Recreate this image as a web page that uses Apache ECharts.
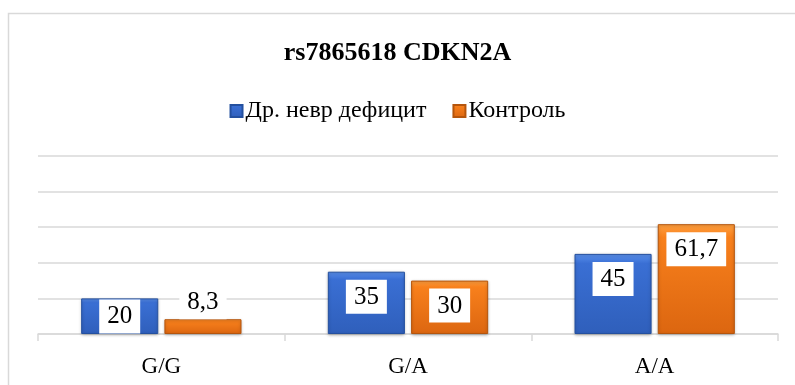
<!DOCTYPE html>
<html>
<head>
<meta charset="utf-8">
<script src="https://cdn.jsdelivr.net/npm/echarts@6/dist/echarts.min.js"></script>
<style>
html, body { margin: 0; padding: 0; background: #fff; }
#chart { width: 795px; height: 385px; }
</style>
</head>
<body>
<div id="chart"></div>
<script>
var categories = ['G/G', 'G/A', 'A/A'];
var seriesNames = ['Др. невр дефицит', 'Контроль'];
var patientValues = [20, 35, 45];
var controlValues = [8.3, 30, 61.7];

var serif = '"Liberation Serif", "Times New Roman", serif';
var myChart = echarts.init(document.getElementById('chart'));

// short bars get the label above them, like in the original
function toItems(values) {
	return values.map(function (v) {
		if (v < 15) {
			return { value: v, label: { position: 'top', distance: 0 } };
		}
		if (v < 25) {
			return { value: v, label: { distance: 1 } };
		}
		return v;
	});
}

function fmt(p) {
	return String(p.value).replace('.', ',');
}

var labelStyle = {
	show: true,
	position: 'insideTop',
	distance: 8,
	formatter: fmt,
	color: '#000',
	fontFamily: serif,
	fontSize: 25,
	lineHeight: 27,
	backgroundColor: '#fff',
	padding: [4, 8, 3, 8]
};

var blue = new echarts.graphic.LinearGradient(0, 0, 0, 1, [
	{ offset: 0, color: '#5a90ec' },
	{ offset: 0.12, color: '#3a6fd4' },
	{ offset: 1, color: '#2f5fbb' }
]);
var orange = new echarts.graphic.LinearGradient(0, 0, 0, 1, [
	{ offset: 0, color: '#ffa040' },
	{ offset: 0.12, color: '#f8801c' },
	{ offset: 1, color: '#dc6610' }
]);

var option = {
	animation: false,
	backgroundColor: '#fff',
	color: ['#3a6fd4', '#f8801c'],
	graphic: [{
		type: 'rect',
		shape: { x: 8.5, y: 13.5, width: 800, height: 400 },
		style: { fill: 'none', stroke: '#d9d9d9', lineWidth: 1.5 },
		silent: true
	}],
	title: {
		text: 'rs7865618 CDKN2A',
		left: 'center',
		top: 35,
		textStyle: { fontFamily: serif, fontSize: 26, fontWeight: 'bold', color: '#000' }
	},
	legend: {
		data: seriesNames,
		top: 94,
		left: 'center',
		itemWidth: 12,
		itemHeight: 12,
		itemGap: 26,
		icon: 'rect',
		textStyle: { fontFamily: serif, fontSize: 24, color: '#000', padding: [0, 0, 0, -2] }
	},
	grid: { left: 38, right: 17, top: 156, bottom: 51 },
	xAxis: {
		type: 'category',
		data: categories,
		axisLine: { lineStyle: { color: '#d9d9d9', width: 1.5 } },
		axisTick: { show: true, length: 7, lineStyle: { color: '#d9d9d9', width: 1.5 } },
		axisLabel: { fontFamily: serif, fontSize: 23, color: '#000', margin: 21 }
	},
	yAxis: {
		type: 'value',
		min: 0,
		max: 100,
		interval: 20,
		axisLabel: { show: false },
		axisLine: { show: false },
		axisTick: { show: false },
		splitLine: { lineStyle: { color: '#d9d9d9', width: 1.5 } }
	},
	series: [{
		name: seriesNames[0],
		type: 'bar',
		data: toItems(patientValues),
		barCategoryGap: '35%',
		barGap: '8%',
		itemStyle: { color: blue, borderColor: '#24509f', borderWidth: 1,
			shadowColor: 'rgba(0,0,0,0.25)', shadowBlur: 3, shadowOffsetY: 1 },
		label: labelStyle
	}, {
		name: seriesNames[1],
		type: 'bar',
		data: toItems(controlValues),
		itemStyle: { color: orange, borderColor: '#b5550c', borderWidth: 1,
			shadowColor: 'rgba(0,0,0,0.25)', shadowBlur: 3, shadowOffsetY: 1 },
		label: labelStyle
	}]
};
myChart.setOption(option);
</script>
</body>
</html>
